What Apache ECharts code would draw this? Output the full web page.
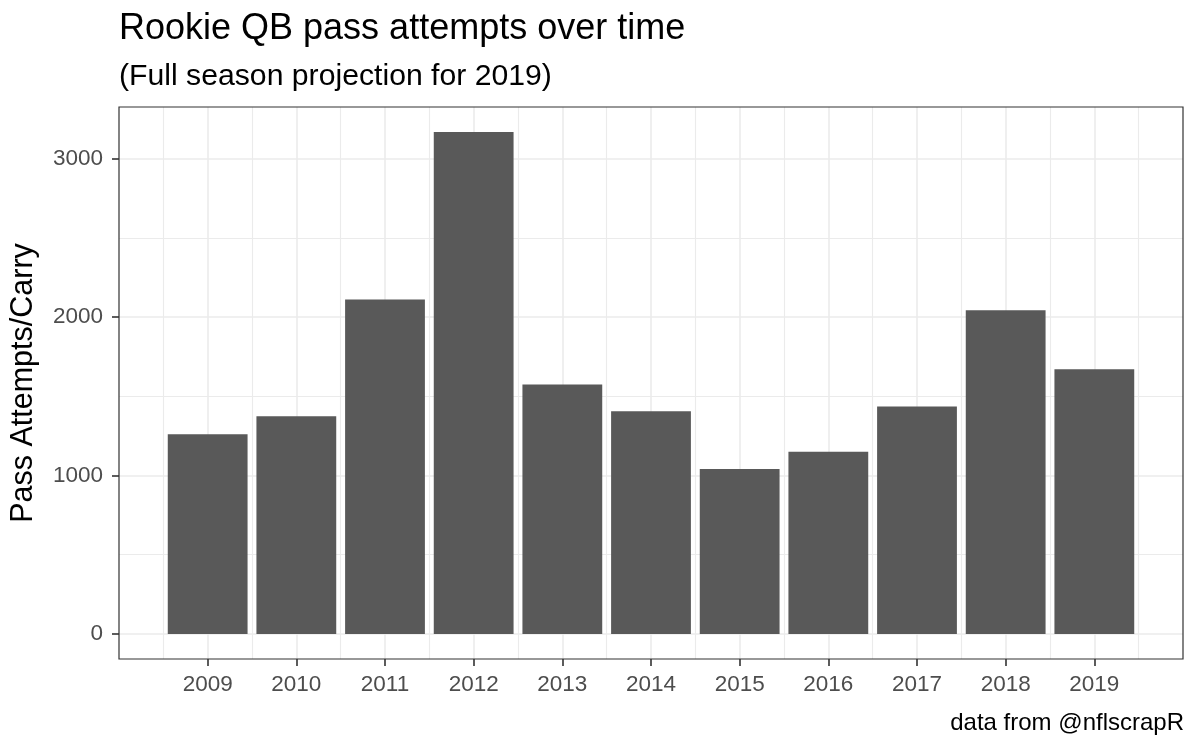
<!DOCTYPE html>
<html>
<head>
<meta charset="utf-8">
<script src="https://cdn.jsdelivr.net/npm/echarts@6/dist/echarts.min.js"></script>
<style>
html,body{margin:0;padding:0;background:#fff;}
#c{width:1200px;height:749px;}
</style>
</head>
<body>
<div id="c"></div>
<script>
const years = [2009, 2010, 2011, 2012, 2013, 2014, 2015, 2016, 2017, 2018, 2019];
const attempts = [1260, 1374, 2111, 3168, 1574, 1406, 1041, 1150, 1435, 2044, 1671];
const yMajorTicks = [0, 1000, 2000, 3000];
const yMinorTicks = [500, 1500, 2500];
const titleText = 'Rookie QB pass attempts over time';
const subtitleText = '(Full season projection for 2019)';
const yAxisTitle = 'Pass Attempts/Carry';
const captionText = 'data from @nflscrapR';

const FONT = '"Liberation Sans", Arial, sans-serif';
const maxVal = Math.max(...attempts);
const yMin = -0.05 * maxVal;
const yMax = maxVal * 1.05;

const chart = echarts.init(document.getElementById('c'), null, {renderer: 'canvas'});
chart.setOption({
  animation: false,
  backgroundColor: '#ffffff',
  title: [
    {
      text: titleText,
      subtext: subtitleText,
      left: 114, top: 6,
      itemGap: 15,
      textStyle: {fontFamily: FONT, fontSize: 36, fontWeight: 'normal', color: '#000'},
      subtextStyle: {fontFamily: FONT, fontSize: 30.2, color: '#000'}
    },
    {
      text: captionText,
      right: 11, top: 706,
      textStyle: {fontFamily: FONT, fontSize: 24, fontWeight: 'normal', color: '#000'}
    }
  ],
  grid: {
    left: 119, right: 17, top: 107, bottom: 90,
    outerBoundsMode: 'none',
    containLabel: false,
    show: true, borderColor: '#333333', borderWidth: 1.2, backgroundColor: 'transparent',
    z: 5
  },
  xAxis: {
    type: 'value',
    min: 2008, max: 2020, interval: 1,
    axisLine: {show: false, onZero: false},
    axisTick: {show: true, length: 7, lineStyle: {color: '#333333', width: 1.6}, customValues: years},
    axisLabel: {
      customValues: years,
      color: '#4D4D4D', fontFamily: FONT, fontSize: 22.5, margin: 14,
      formatter: v => String(v)
    },
    splitLine: {show: true, lineStyle: {color: '#EBEBEB', width: 1.6}},
    minorTick: {show: false, splitNumber: 2},
    minorSplitLine: {show: true, lineStyle: {color: '#EBEBEB', width: 1.1}}
  },
  yAxis: {
    type: 'value',
    min: yMin, max: yMax,
    name: yAxisTitle,
    nameLocation: 'middle',
    nameGap: 80,
    nameTextStyle: {fontFamily: FONT, fontSize: 30.5, color: '#000'},
    axisLine: {show: false, onZero: false},
    axisTick: {show: true, length: 7, lineStyle: {color: '#333333', width: 1.6}, customValues: yMajorTicks},
    axisLabel: {customValues: yMajorTicks, color: '#4D4D4D', fontFamily: FONT, fontSize: 22.5, margin: 16,
      formatter: v => String(v)},
    splitLine: {show: false}
  },
  series: [
    {
      type: 'line',
      data: [],
      silent: true,
      z: 1,
      markLine: {
        silent: true,
        z: 1,
        symbol: 'none',
        label: {show: false},
        data: yMajorTicks.map(v => ({yAxis: v, lineStyle: {color: '#EBEBEB', width: 1.6, type: 'solid'}}))
          .concat(yMinorTicks.map(v => ({yAxis: v, lineStyle: {color: '#EBEBEB', width: 1.1, type: 'solid'}})))
      }
    },
    {
      type: 'bar',
      z: 3,
      barWidth: '90%',
      itemStyle: {color: '#595959'},
      data: years.map((y, i) => [y, attempts[i]])
    }
  ]
});
</script>
</body>
</html>
